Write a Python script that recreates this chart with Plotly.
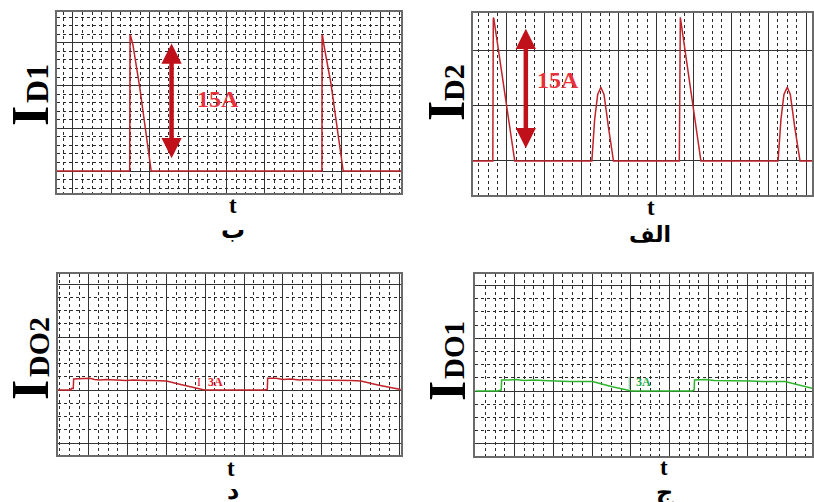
import plotly.graph_objects as go

# ---------------- data (units: grid divisions) ----------------
d1_t = [-0.42, 1.48, 1.49, 1.50, 1.566, 1.74, 2.04, 6.485, 6.49, 6.50, 6.545, 6.72, 7.04, 8.55]
d1_i = [0, 0, 3.18, 3.18, 2.95, 1.97, 0, 0, 3.18, 3.18, 2.91, 2.05, 0, 0]

d2_t = [-0.91, -0.373, -0.36, -0.347, 0.213, 2.275, 2.35, 2.43, 2.515, 2.60, 2.72, 2.853,
        4.613, 4.625, 4.64, 5.19, 7.253, 7.33, 7.41, 7.50, 7.58, 7.70, 7.84, 8.16]
d2_i = [0, 0, 2.58, 2.57, 0, 0, 0.75, 1.2, 1.33, 1.2, 0.6, 0,
        0, 2.59, 2.59, 0, 0, 0.75, 1.2, 1.33, 1.2, 0.6, 0, 0]

do2_t = [-0.79, -0.46, -0.45, -0.40, -0.39, -0.20, 0.03, 0.15, 0.28, 0.45, 0.62, 0.80, 0.97,
         1.15, 1.32, 1.48, 1.65, 1.82, 2.0, 2.34, 2.68, 2.98, 4.52, 4.60, 4.61, 4.83, 5.0,
         5.20, 5.42, 5.60, 5.80, 6.05, 6.28, 6.50, 6.75, 7.01, 7.48, 8.04]
do2_i = [0, 0, 0.03, 0.03, 0.21, 0.21, 0.22, 0.20, 0.19, 0.20, 0.19, 0.19, 0.18,
         0.19, 0.18, 0.18, 0.18, 0.17, 0.17, 0.11, 0.045, 0, 0, 0.01, 0.22, 0.22, 0.20,
         0.21, 0.19, 0.20, 0.19, 0.19, 0.18, 0.18, 0.18, 0.17, 0.09, 0.01]

do1_t = [0.0, 0.57, 0.66, 0.67, 0.85, 1.04, 1.25, 1.50, 1.73, 1.95, 2.20, 2.41, 2.70,
         3.01, 3.52, 4.02, 5.57, 5.63, 5.64, 5.92, 6.15, 6.40, 6.62, 6.85, 7.10, 7.40,
         7.70, 7.97, 8.67]
do1_i = [0, 0, 0.02, 0.21, 0.21, 0.22, 0.20, 0.21, 0.20, 0.19, 0.19, 0.18, 0.18,
         0.18, 0.08, 0, 0, 0.02, 0.21, 0.22, 0.20, 0.20, 0.19, 0.19, 0.19, 0.18,
         0.18, 0.18, 0.05]

W, H = 814, 502


def px(x):
    return x / W


def py(y):
    return 1 - y / H


RED = "#C0232B"
GREEN = "#2DB52D"

fig = go.Figure()
fig.add_trace(go.Scatter(x=d1_t, y=d1_i, mode="lines", line=dict(color=RED, width=1.5),
                         xaxis="x", yaxis="y", showlegend=False, hoverinfo="skip"))
fig.add_trace(go.Scatter(x=d2_t, y=d2_i, mode="lines", line=dict(color=RED, width=1.5),
                         xaxis="x2", yaxis="y2", showlegend=False, hoverinfo="skip"))
fig.add_trace(go.Scatter(x=do2_t, y=do2_i, mode="lines", line=dict(color=RED, width=1.5),
                         xaxis="x3", yaxis="y3", showlegend=False, hoverinfo="skip"))
fig.add_trace(go.Scatter(x=do1_t, y=do1_i, mode="lines", line=dict(color=GREEN, width=1.5),
                         xaxis="x4", yaxis="y4", showlegend=False, hoverinfo="skip"))


def axis(dom, rng, minor_dtick, anchor):
    a = dict(domain=dom, range=rng, dtick=1, tick0=0, showgrid=True, gridcolor="#333333",
             gridwidth=1, showticklabels=False, ticks="", zeroline=False, showline=True,
             mirror=True, linecolor="#6a6a6a", linewidth=2, anchor=anchor, fixedrange=True)
    if minor_dtick:
        a["minor"] = dict(dtick=minor_dtick, tick0=0, showgrid=True, gridcolor="#2a2a2a",
                          griddash="3px,3px", gridwidth=1)
    return a


fig.update_layout(
    width=W, height=H, margin=dict(l=0, r=0, t=0, b=0),
    paper_bgcolor="white", plot_bgcolor="white",
    xaxis=axis([px(57), px(402)], [-0.416, 8.545], 0.25, "y"),
    yaxis=axis([py(193), py(12)], [-0.515, 3.724], 0.2, "x"),
    xaxis2=axis([px(474), px(814)], [-0.907, 8.16], 0.25, "y2"),
    yaxis2=axis([py(195), py(13)], [-0.613, 2.667], None, "x2"),
    xaxis3=axis([px(58), px(402)], [-0.797, 8.046], 0.25, "y3"),
    yaxis3=axis([py(455), py(274)], [-1.226, 2.189], 0.25, "x3"),
    xaxis4=axis([px(476), px(814)], [-0.02, 8.667], 0.25, "y4"),
    yaxis4=axis([py(456), py(274)], [-1.233, 2.22], 0.25, "x4"),
)

ann = []
# double-headed arrows
for xr, yr, x, y0, y1 in [("x", "y", 2.57, 3.02, 0.30), ("x2", "y2", 0.51, 2.41, 0.23)]:
    ann.append(dict(x=x, y=y1, ax=x, ay=y0, xref=xr, yref=yr, axref=xr, ayref=yr, text="",
                    showarrow=True, arrowhead=2, arrowside="end+start", arrowsize=0.9,
                    arrowwidth=4.5, arrowcolor="#C0101A"))
# 15A labels
for xr, yr, x, y in [("x", "y", 3.77, 1.69), ("x2", "y2", 1.36, 1.46)]:
    ann.append(dict(x=x, y=y, xref=xr, yref=yr, text="<b>15A</b>", showarrow=False,
                    font=dict(family="Liberation Serif", size=24, color="#E8313B")))
# small 3A labels
ann.append(dict(x=2.85, y=0.16, xref="x3", yref="y3", text="I", showarrow=False,
                font=dict(family="Liberation Serif", size=12, color="#E8141F")))
ann.append(dict(x=3.26, y=0.16, xref="x3", yref="y3", text="<b>3A</b>", showarrow=False,
                font=dict(family="Liberation Serif", size=12, color="#E8141F")))
ann.append(dict(x=3.95, y=0.18, xref="x4", yref="y4", text="|", showarrow=False,
                font=dict(family="Liberation Serif", size=12, color="#22A84A")))
ann.append(dict(x=4.33, y=0.18, xref="x4", yref="y4", text="<b>3A</b>", showarrow=False,
                font=dict(family="Liberation Serif", size=12, color="#22A84A")))

# y labels: big "I" plus subscript, both rotated
for main, x, y in [("I", 30, 116), ("I", 447, 111), ("I", 30, 390), ("I", 448, 391)]:
    ann.append(dict(x=px(x), y=py(y), xref="paper", yref="paper", text="<b>" + main + "</b>",
                    textangle=-90, showarrow=False, xanchor="center", yanchor="middle",
                    font=dict(family="Liberation Serif", size=52, color="black")))
for sub, x, y, s in [("D1", 37, 83, 32), ("D2", 455, 82, 30),
                     ("DO2", 38, 347, 30), ("DO1", 455, 350, 29)]:
    ann.append(dict(x=px(x), y=py(y), xref="paper", yref="paper", text="<b>" + sub + "</b>",
                    textangle=-90, showarrow=False, xanchor="center", yanchor="middle",
                    font=dict(family="Liberation Serif", size=s, color="black")))

# t labels and panel letters
for x, y in [(234, 205), (653, 207), (232, 468), (666, 467)]:
    ann.append(dict(x=px(x), y=py(y), xref="paper", yref="paper", text="<b>t</b>",
                    showarrow=False, xanchor="center", yanchor="middle",
                    font=dict(family="Liberation Serif", size=23, color="black")))
for txt, x, y, s in [("ب", 234, 230, 24), ("الف", 652, 234, 22), ("د", 234, 491, 24),
                     ("ج", 667, 492, 24)]:
    ann.append(dict(x=px(x), y=py(y), xref="paper", yref="paper", text="<b>" + txt + "</b>",
                    showarrow=False, xanchor="center", yanchor="middle",
                    font=dict(family="DejaVu Sans", size=s, color="black")))

fig.update_layout(annotations=ann)
fig.write_html("out.html")
